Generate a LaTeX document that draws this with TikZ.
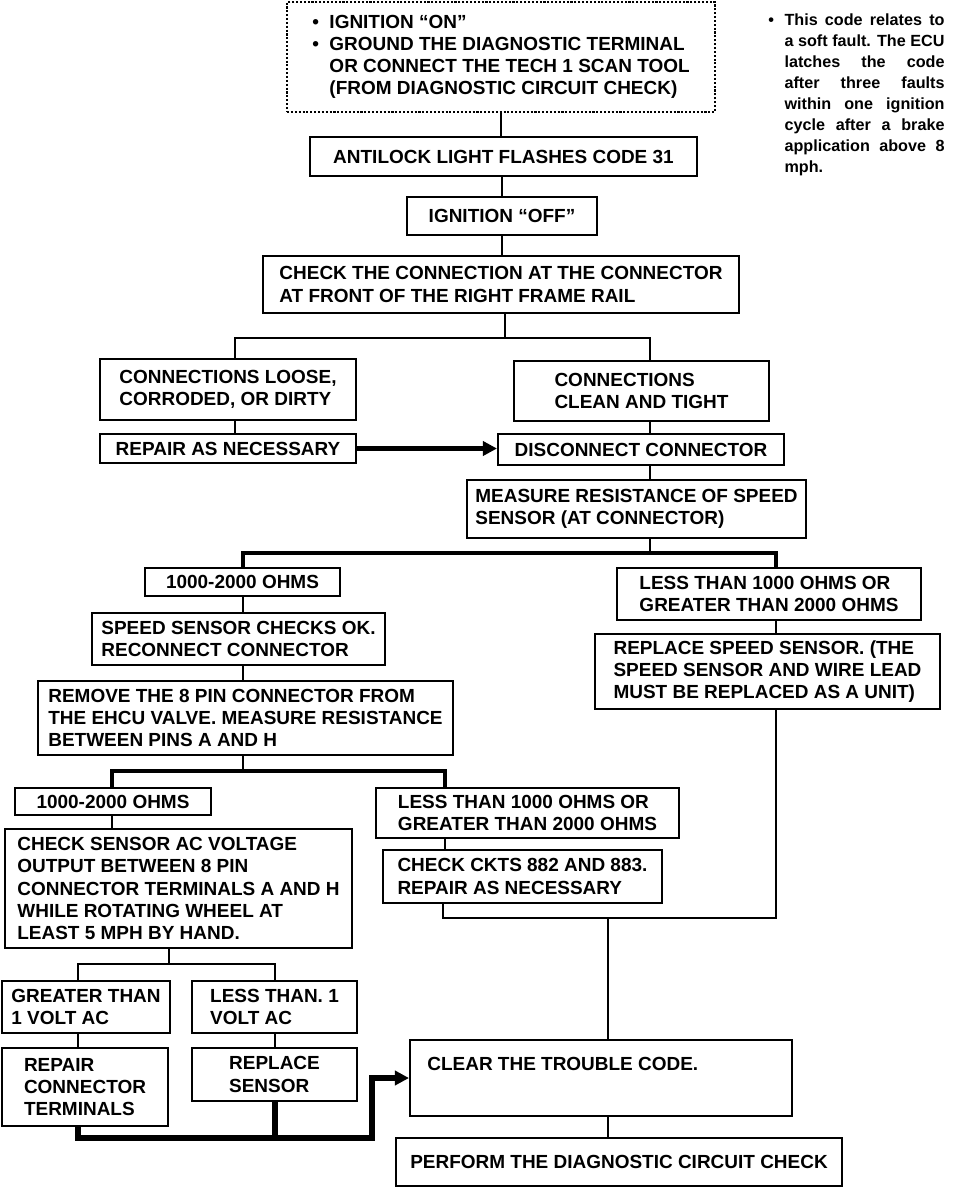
\documentclass[tikz,border=0pt]{standalone}
\usepackage{fontspec}
\setmainfont{Liberation Sans}
\usetikzlibrary{arrows.meta}

\begin{document}
\begin{tikzpicture}[x=0.02cm,y=-0.02cm,
    font=\bfseries\fontsize{10.8}{12.6}\selectfont,
    box/.style={draw,line width=1.2pt,align=left,inner sep=0pt},
    link/.style={line width=1pt},
    bold link/.style={line width=1.8pt},
    heavy/.style={line width=3pt},
    tip/.style={-{Triangle[length=8pt,width=8pt]}}]
  \useasboundingbox[fill=white] (0,0) rectangle (960,1188);
  % boxes, top to bottom
  \node[box,densely dotted,line width=0.8pt,minimum width=8.56cm,minimum height=2.2cm] (start) at (501,57)
    {\begin{tabular}{@{}l@{\hspace{6pt}}l@{}}
      • & IGNITION “ON”\\
      • & GROUND THE DIAGNOSTIC TERMINAL\\
        & OR CONNECT THE TECH 1 SCAN TOOL\\
        & (FROM DIAGNOSTIC CIRCUIT CHECK)
     \end{tabular}};
  \node[anchor=north west,inner sep=0pt,font=\bfseries\fontsize{9.2}{12}\selectfont] (note) at (768,10)
    {\begin{tabular}{@{}l@{\hspace{6pt}}l@{}}
      • & \makebox[3.2cm][s]{This code relates to}\\
        & \makebox[3.2cm][s]{a soft fault. The ECU}\\
        & \makebox[3.2cm][s]{latches the code}\\
        & \makebox[3.2cm][s]{after three faults}\\
        & \makebox[3.2cm][s]{within one ignition}\\
        & \makebox[3.2cm][s]{cycle after a brake}\\
        & \makebox[3.2cm][s]{application above 8}\\
        & mph.
     \end{tabular}};
  \node[box,minimum width=7.74cm,minimum height=0.78cm] (code) at (503.5,156.5) {ANTILOCK LIGHT FLASHES CODE 31};
  \node[box,minimum width=3.8cm,minimum height=0.76cm] (ignoff) at (502,216) {IGNITION “OFF”};
  \node[box,minimum width=9.52cm,minimum height=1.14cm] (check) at (501,284.5)
    {CHECK THE CONNECTION AT THE CONNECTOR\\AT FRONT OF THE RIGHT FRAME RAIL};
  \node[box,minimum width=5.12cm,minimum height=1.22cm] (loose) at (228,389.5)
    {CONNECTIONS LOOSE,\\CORRODED, OR DIRTY};
  \node[box,minimum width=5.1cm,minimum height=1.2cm] (clean) at (641.5,391)
    {CONNECTIONS\\CLEAN AND TIGHT};
  \node[box,minimum width=5.12cm,minimum height=0.58cm] (repair) at (228,448.5) {REPAIR AS NECESSARY};
  \node[box,minimum width=5.72cm,minimum height=0.62cm] (disc) at (641,449.5) {DISCONNECT CONNECTOR};
  \node[box,minimum width=6.78cm,minimum height=1.16cm] (measure) at (636.5,509)
    {MEASURE RESISTANCE OF SPEED\\SENSOR (AT CONNECTOR)};
  \node[box,minimum width=3.9cm,minimum height=0.56cm] (ohmsA) at (242.5,582) {1000-2000 OHMS};
  \node[box,minimum width=6.08cm,minimum height=1.04cm] (lessA) at (769,594)
    {LESS THAN 1000 OHMS OR\\GREATER THAN 2000 OHMS};
  \node[box,minimum width=5.86cm,minimum height=1.04cm] (ok) at (238.5,639)
    {SPEED SENSOR CHECKS OK.\\RECONNECT CONNECTOR};
  \node[box,minimum width=6.9cm,minimum height=1.5cm] (replace) at (767.5,671.5)
    {REPLACE SPEED SENSOR. (THE\\SPEED SENSOR AND WIRE LEAD\\MUST BE REPLACED AS A UNIT)};
  \node[box,minimum width=8.3cm,minimum height=1.48cm] (remove) at (245.5,718)
    {REMOVE THE 8 PIN CONNECTOR FROM\\THE EHCU VALVE. MEASURE RESISTANCE\\BETWEEN PINS A AND H};
  \node[box,minimum width=3.92cm,minimum height=0.54cm] (ohmsB) at (113,801.5) {1000-2000 OHMS};
  \node[box,minimum width=6.06cm,minimum height=1.0cm] (lessB) at (527.5,813)
    {LESS THAN 1000 OHMS OR\\GREATER THAN 2000 OHMS};
  \node[box,minimum width=6.94cm,minimum height=2.38cm] (volt) at (178.5,888.5)
    {CHECK SENSOR AC VOLTAGE\\OUTPUT BETWEEN 8 PIN\\CONNECTOR TERMINALS A AND H\\WHILE ROTATING WHEEL AT\\LEAST 5 MPH BY HAND.};
  \node[box,minimum width=5.58cm,minimum height=1.06cm] (ckts) at (522.5,876.5)
    {CHECK CKTS 882 AND 883.\\REPAIR AS NECESSARY};
  \node[box,minimum width=3.36cm,minimum height=1.04cm] (gt) at (86,1007) {GREATER THAN\\1 VOLT AC};
  \node[box,minimum width=3.3cm,minimum height=1.04cm] (lt) at (274.5,1007) {LESS THAN. 1\\VOLT AC};
  \node[box,minimum width=3.32cm,minimum height=1.56cm] (term) at (85,1087) {REPAIR\\CONNECTOR\\TERMINALS};
  \node[box,minimum width=3.3cm,minimum height=1.06cm] (sensor) at (274.5,1074.5) {REPLACE\\SENSOR};
  \node[box,minimum width=7.64cm,minimum height=1.52cm] (clear) at (601,1078) {};
  \node[anchor=west,inner sep=0pt] (cleartxt) at (427,1064) {CLEAR THE TROUBLE CODE.};
  \node[box,minimum width=8.92cm,minimum height=0.96cm] (perform) at (619,1162) {PERFORM THE DIAGNOSTIC CIRCUIT CHECK};
  % junctions
  \coordinate (j1) at (505,338);  \coordinate (j1l) at (235,338);  \coordinate (j1r) at (650,338);
  \coordinate (j2) at (650,553);  \coordinate (j2l) at (243,553);  \coordinate (j2r) at (776,553);
  \coordinate (j3) at (243,771);  \coordinate (j3l) at (112,771);  \coordinate (j3r) at (445,771);
  \coordinate (j4) at (608,918);  \coordinate (j4l) at (443,918);  \coordinate (j4r) at (776,918);
  \coordinate (j5) at (169,964);  \coordinate (j5l) at (78,964);   \coordinate (j5r) at (275,964);
  \coordinate (j6) at (78,1138);  \coordinate (j6r) at (372,1138);
  % connectors
  \begin{scope}[link]
    \draw (start.south) -- (start.south |- code.north);
    \draw (code.south -| ignoff) -- (ignoff.north);
    \draw (ignoff.south) -- (ignoff.south |- check.north);
    \draw (check.south -| j1) -- (j1);
    \draw (j1l |- loose.north) -- (j1l) -- (j1r) -- (j1r |- clean.north);
    \draw (loose.south -| j1l) -- (j1l |- repair.north);
    \draw (clean.south -| j1r) -- (j1r |- disc.north);
    \draw (disc.south -| j1r) -- (j1r |- measure.north);
    \draw (measure.south -| j2) -- (j2);
    \draw (ohmsA.south -| j2l) -- (j2l |- ok.north);
    \draw (ok.south -| j2l) -- (j2l |- remove.north);
    \draw (lessA.south -| j2r) -- (j2r |- replace.north);
    \draw (remove.south -| j3) -- (j3);
    \draw (ohmsB.south -| j3l) -- (j3l |- volt.north);
    \draw (lessB.south -| j3r) -- (j3r |- ckts.north);
    \draw (ckts.south -| j4l) -- (j4l) -- (j4r) -- (replace.south -| j4r);
    \draw (j4) -- (j4 |- clear.north);
    \draw (volt.south -| j5) -- (j5);
    \draw (j5l |- gt.north) -- (j5l) -- (j5r) -- (j5r |- lt.north);
    \draw (gt.south -| j5l) -- (j5l |- term.north);
    \draw (lt.south -| j5r) -- (j5r |- sensor.north);
    \draw (clear.south -| j4) -- (j4 |- perform.north);
  \end{scope}
  \draw[bold link] (j2l |- ohmsA.north) -- (j2l) -- (j2r) -- (j2r |- lessA.north);
  \draw[bold link] (j3l |- ohmsB.north) -- (j3l) -- (j3r) -- (j3r |- lessB.north);
  \draw[heavy,tip] (repair.east) -- (repair.east -| disc.west);
  \draw[heavy,tip] (term.south -| j6) -- (j6) -- (j6r) -- (j6r |- clear.west) -- (clear.west);
  \draw[heavy] (sensor.south -| j5r) -- (j5r |- j6);
\end{tikzpicture}
\end{document}
